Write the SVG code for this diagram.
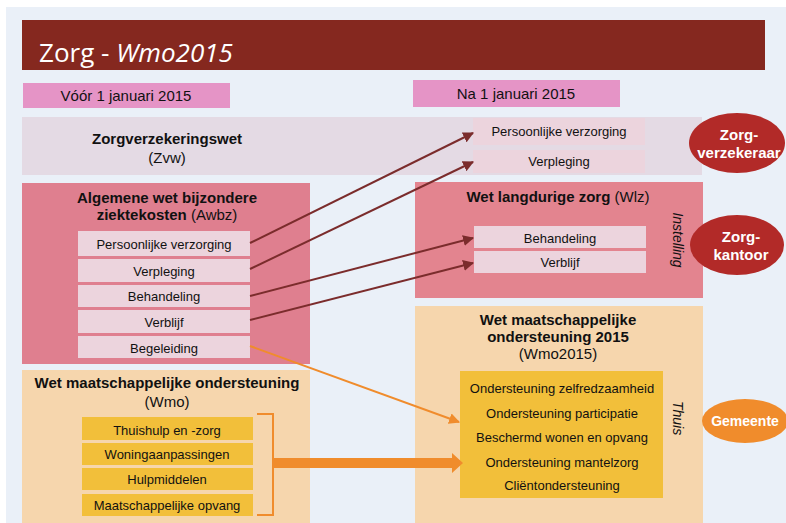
<svg xmlns="http://www.w3.org/2000/svg" width="786" height="523" viewBox="0 0 786 523">
<defs>
<style>
text{font-family:"Liberation Sans",Arial,sans-serif;fill:#111;}
.t{font-size:15px;text-anchor:middle;}
.b{font-weight:bold;}
.s{font-size:13px;text-anchor:middle;}
.r{font-size:14px;text-anchor:middle;font-style:italic;}
.sub{fill:#ecd4dd;}
.yel{fill:#f2bf3a;}
.w{fill:#fff;font-weight:bold;font-size:15px;text-anchor:middle;}
.dr{stroke:#7b2c2c;stroke-width:2;fill:none;marker-end:url(#ah);}
</style>
<marker id="ah" viewBox="0 0 10 10" refX="9" refY="5" markerWidth="5.5" markerHeight="5.5" orient="auto" markerUnits="strokeWidth">
<path d="M0,0 L10,5 L0,10 z" fill="#7b2c2c"/>
</marker>
<marker id="ao" viewBox="0 0 10 10" refX="9" refY="5" markerWidth="5.5" markerHeight="5.5" orient="auto" markerUnits="strokeWidth">
<path d="M0,0 L10,5 L0,10 z" fill="#f08c2c"/>
</marker>
</defs>
<rect width="786" height="523" fill="#ffffff"/>
<rect x="6" y="7" width="780" height="516" fill="#eaf0f8"/>

<g id="title">
<rect x="22" y="20" width="743" height="50" fill="#85281f"/>
<text x="39" y="62" style="font-family:'Open Sans','Liberation Sans',sans-serif;font-size:26px;fill:#fff">Zorg - <tspan font-style="italic">Wmo2015</tspan></text>
</g>

<g id="voor">
<rect x="23" y="83" width="207" height="25" fill="#e594c6"/>
<text class="t" x="126" y="101">Vóór 1 januari 2015</text>
</g>
<g id="na">
<rect x="413" y="80" width="207" height="27" fill="#e594c6"/>
<text class="t" x="516" y="99">Na 1 januari 2015</text>
</g>

<g id="zvw">
<rect x="22" y="117" width="680" height="58" fill="#e4dae4"/>
<text class="t b" x="167" y="144">Zorgverzekeringswet</text>
<text class="t" x="167" y="163">(Zvw)</text>
</g>
<g id="zvw-pv">
<rect class="sub" x="473" y="118" width="172" height="27"/>
<text class="s" x="559" y="136">Persoonlijke verzorging</text>
</g>
<g id="zvw-vp">
<rect class="sub" x="473" y="150" width="172" height="23"/>
<text class="s" x="559" y="166">Verpleging</text>
</g>

<g id="awbz">
<rect x="22" y="183" width="288" height="181" fill="#df7f8f"/>
<text class="t b" x="167" y="203">Algemene wet bijzondere</text>
<text class="t" x="167" y="220"><tspan font-weight="bold">ziektekosten</tspan> (Awbz)</text>
</g>
<g id="awbz-pv">
<rect class="sub" x="78" y="231" width="172" height="25"/>
<text class="s" x="164" y="249">Persoonlijke verzorging</text>
</g>
<g id="awbz-vp">
<rect class="sub" x="78" y="259" width="172" height="23"/>
<text class="s" x="164" y="276">Verpleging</text>
</g>
<g id="awbz-bh">
<rect class="sub" x="78" y="285" width="172" height="22"/>
<text class="s" x="164" y="301">Behandeling</text>
</g>
<g id="awbz-vb">
<rect class="sub" x="78" y="310" width="172" height="23"/>
<text class="s" x="164" y="327">Verblijf</text>
</g>
<g id="awbz-bg">
<rect class="sub" x="78" y="336" width="172" height="22"/>
<text class="s" x="164" y="353">Begeleiding</text>
</g>

<g id="wlz">
<rect x="415" y="182" width="288" height="116" fill="#e3848f"/>
<text class="t" x="558" y="202"><tspan font-weight="bold">Wet langdurige zorg</tspan> (Wlz)</text>
<text class="r" transform="translate(673,240) rotate(90)">Instelling</text>
</g>
<g id="wlz-bh">
<rect class="sub" x="474" y="226" width="172" height="22"/>
<text class="s" x="560" y="243">Behandeling</text>
</g>
<g id="wlz-vb">
<rect class="sub" x="474" y="251" width="172" height="22"/>
<text class="s" x="560" y="267">Verblijf</text>
</g>

<g id="wmo">
<rect x="22" y="370" width="288" height="153" fill="#f6d6ad"/>
<text class="t b" x="167" y="388">Wet maatschappelijke ondersteuning</text>
<text class="t" x="167" y="407">(Wmo)</text>
</g>
<g id="wmo-th">
<rect class="yel" x="82" y="417" width="171" height="23"/>
<text class="s" x="167" y="435">Thuishulp en -zorg</text>
</g>
<g id="wmo-wa">
<rect class="yel" x="82" y="443" width="171" height="22"/>
<text class="s" x="167" y="459">Woningaanpassingen</text>
</g>
<g id="wmo-hm">
<rect class="yel" x="82" y="468" width="171" height="22"/>
<text class="s" x="167" y="484">Hulpmiddelen</text>
</g>
<g id="wmo-mo">
<rect class="yel" x="82" y="494" width="171" height="22"/>
<text class="s" x="167" y="510">Maatschappelijke opvang</text>
</g>

<g id="wmo2015">
<rect x="415" y="306" width="288" height="217" fill="#f6d6ad"/>
<text class="t b" x="558" y="325">Wet maatschappelijke</text>
<text class="t b" x="558" y="342">ondersteuning 2015</text>
<text class="t" x="558" y="359">(Wmo2015)</text>
<rect class="yel" x="460" y="371" width="203" height="127"/>
<text class="s" x="562" y="393">Ondersteuning zelfredzaamheid</text>
<text class="s" x="562" y="418">Ondersteuning participatie</text>
<text class="s" x="562" y="442">Beschermd wonen en opvang</text>
<text class="s" x="562" y="467">Ondersteuning mantelzorg</text>
<text class="s" x="562" y="490">Cliëntondersteuning</text>
<text class="r" transform="translate(673,418) rotate(90)">Thuis</text>
</g>

<g id="zorgverzekeraar">
<ellipse cx="737" cy="143" rx="48" ry="30" fill="#b22a28"/>
<text class="w" x="739" y="140">Zorg-</text>
<text class="w" x="739" y="158">verzekeraar</text>
</g>
<g id="zorgkantoor">
<ellipse cx="737" cy="245" rx="47" ry="30" fill="#b22a28"/>
<text class="w" x="741" y="242">Zorg-</text>
<text class="w" x="741" y="260">kantoor</text>
</g>
<g id="gemeente">
<ellipse cx="745" cy="421" rx="43" ry="22" fill="#f08c2c"/>
<text class="w" x="745" y="426" style="font-size:14px">Gemeente</text>
</g>

<g id="connectors">
<line class="dr" x1="250" y1="243" x2="473" y2="133"/>
<line class="dr" x1="250" y1="269" x2="473" y2="162"/>
<line class="dr" x1="250" y1="296" x2="473" y2="238"/>
<line class="dr" x1="250" y1="320" x2="473" y2="263"/>
<line x1="250" y1="346" x2="459" y2="422" stroke="#f08c2c" stroke-width="2" marker-end="url(#ao)"/>
<path d="M257,414 H273 V515 H257" fill="none" stroke="#f08c2c" stroke-width="2"/>
<path d="M273,458 H452 V453 L463,463 L452,473 V468 H273 z" fill="#f08c2c"/>
</g>
</svg>
